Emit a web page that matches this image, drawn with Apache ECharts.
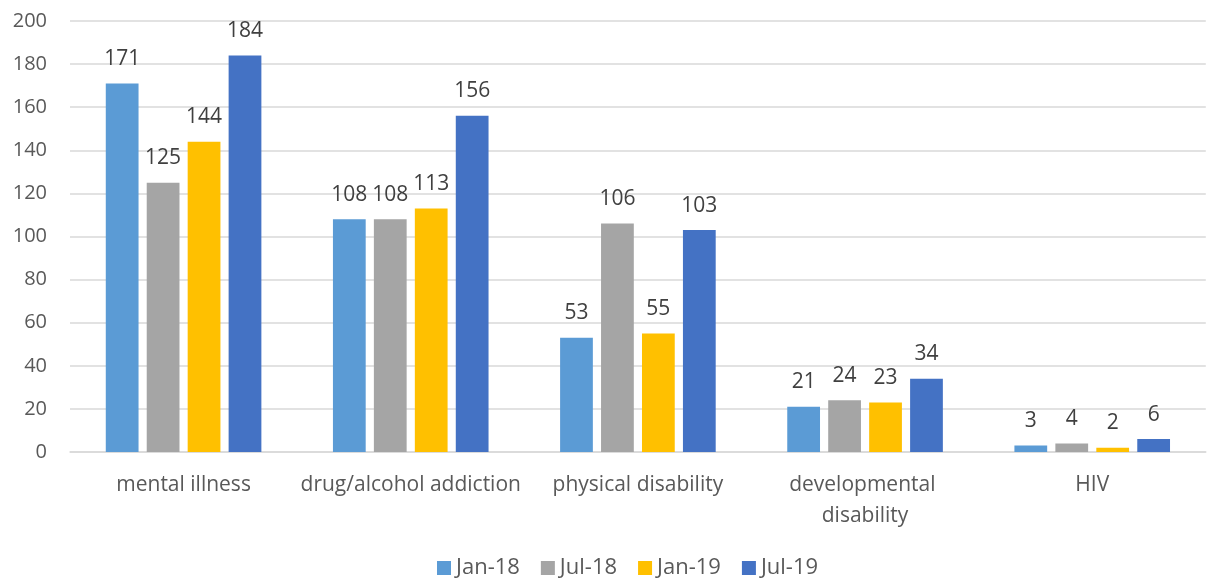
<!DOCTYPE html>
<html><head><meta charset="utf-8">
<script src="https://cdn.jsdelivr.net/npm/echarts@6/dist/echarts.min.js"></script>
<style>html,body{margin:0;padding:0;background:#fff}#c{width:1208px;height:579px}</style>
</head><body><div id="c"></div>
<script>
const categories = ["mental illness", "drug/alcohol addiction", "physical disability", "developmental disability", "HIV"];
const seriesNames = ["Jan-18", "Jul-18", "Jan-19", "Jul-19"];
const jan18 = [171, 108, 53, 21, 3];
const jul18 = [125, 108, 106, 24, 4];
const jan19 = [144, 113, 55, 23, 2];
const jul19 = [184, 156, 103, 34, 6];
const yTicks = [0, 20, 40, 60, 80, 100, 120, 140, 160, 180, 200];

const colors = ["#5B9BD5", "#A5A5A5", "#FFC000", "#4472C4"];
const values = [jan18, jul18, jan19, jul19];
const font = "'Open Sans', 'Liberation Sans', sans-serif";
const chart = echarts.init(document.getElementById('c'));
chart.setOption({
  animation: false,
  textStyle: {fontFamily: font},
  grid: {left: 70, right: 0, top: 21, bottom: 127, containLabel: false},
  legend: {
    top: 552, left: 432, itemWidth: 14, itemHeight: 14, itemGap: 21, icon: 'rect',
    textStyle: {fontSize: 22, color: '#595959', fontFamily: font},
    data: seriesNames
  },
  xAxis: {
    type: 'category', data: categories,
    axisLine: {show: true, lineStyle: {color: '#D9D9D9', width: 1.5}},
    axisTick: {show: false},
    axisLabel: {fontSize: 21, color: '#595959', margin: 18, width: 226, overflow: 'break', lineHeight: 31, interval: 0}
  },
  yAxis: {
    type: 'value', min: yTicks[0], max: yTicks[yTicks.length - 1], interval: 20,
    axisLine: {show: false}, axisTick: {show: false},
    splitLine: {lineStyle: {color: '#D9D9D9', width: 1.5}},
    axisLabel: {fontSize: 20, color: '#595959', margin: 23}
  },
  series: seriesNames.map((n, i) => ({
    name: n, type: 'bar', data: values[i],
    itemStyle: {color: colors[i]},
    barGap: '25%', barCategoryGap: '31.5%',
    label: {show: true, position: 'top', distance: 14, fontSize: 21, color: '#404040', fontFamily: font}
  }))
});
</script></body></html>
